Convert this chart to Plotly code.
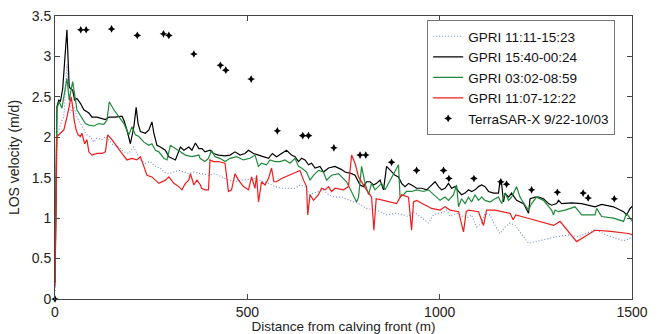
import plotly.graph_objects as go

# ---- data (distance from calving front in m, LOS velocity in m/d) ----
blue_x = [0, 3, 5, 10, 18, 23, 31, 40, 49, 57, 66, 75, 83, 92, 101, 109, 122, 131, 153, 166, 179, 192, 205, 213,
          222, 235, 248, 261, 274, 283, 296, 309, 322, 335, 348, 361, 381, 399, 416, 433, 451, 468, 485, 520, 555,
          572, 589, 624, 637, 650, 663, 672, 685, 698, 711, 728, 745, 767, 789, 810, 836, 862, 884, 906, 919, 932,
          971, 984, 1001, 1018, 1027, 1044, 1070, 1083, 1096, 1109, 1118, 1131, 1144, 1157, 1170, 1183, 1196, 1231,
          1270, 1304, 1334, 1360, 1404, 1434, 1478, 1495, 1504]
blue_y = [0.1, 1.0, 2.05, 2.09, 2.21, 2.25, 2.9, 2.30, 2.38, 2.25, 2.17, 2.09, 2.03, 2.01, 1.94, 1.99, 1.97, 2.01,
          1.90, 1.88, 1.82, 1.80, 1.88, 1.80, 1.72, 1.68, 1.70, 1.64, 1.62, 1.57, 1.55, 1.57, 1.59, 1.57, 1.55, 1.57,
          1.55, 1.53, 1.55, 1.51, 1.47, 1.45, 1.47, 1.49, 1.43, 1.39, 1.37, 1.37, 1.41, 1.39, 1.29, 1.31, 1.33, 1.35,
          1.29, 1.26, 1.26, 1.22, 1.18, 1.12, 1.10, 1.04, 1.06, 1.04, 1.02, 1.08, 0.94, 1.04, 1.06, 1.10, 1.02, 1.06,
          1.00, 1.04, 0.89, 0.94, 1.06, 1.04, 0.91, 0.81, 0.89, 0.94, 0.91, 0.69, 0.73, 0.77, 0.79, 0.77, 0.86, 0.79,
          0.72, 0.75, 0.79]

black_x = [0, 3, 5, 10, 14, 20, 31, 37, 46, 51, 57, 66, 75, 88, 96, 109, 122, 131, 140, 157, 174, 179, 187, 196,
           205, 211, 216, 222, 235, 244, 252, 257, 265, 274, 287, 296, 304, 313, 326, 335, 348, 356, 365, 374, 382,
           390, 403, 412, 425, 442, 455, 468, 481, 494, 503, 516, 529, 542, 555, 565, 576, 589, 602, 615, 624, 633,
           641, 650, 659, 667, 676, 689, 698, 711, 728, 745, 754, 771, 780, 793, 802, 810, 819, 828, 836, 845, 854,
           862, 875, 884, 893, 901, 910, 919, 927, 940, 953, 966, 975, 988, 997, 1005, 1014, 1023, 1031, 1040, 1049,
           1057, 1066, 1075, 1083, 1092, 1101, 1109, 1118, 1127, 1140, 1153, 1157, 1161, 1166, 1170, 1179, 1187,
           1200, 1218, 1231, 1235, 1248, 1257, 1270, 1283, 1291, 1304, 1309, 1317, 1343, 1369, 1404, 1421, 1452,
           1478, 1486, 1495, 1504]
black_y = [0.2, 1.2, 2.38, 2.46, 2.44, 2.6, 3.33, 2.62, 2.58, 2.46, 2.48, 2.42, 2.34, 2.30, 2.25, 2.25, 2.23, 2.22,
           2.25, 2.25, 2.26, 2.21, 2.09, 1.92, 2.13, 2.37, 2.17, 2.07, 2.05, 2.09, 2.19, 2.05, 1.90, 1.88, 1.84, 1.76,
           1.74, 1.72, 1.88, 1.84, 1.88, 1.84, 1.93, 1.86, 1.86, 1.82, 1.84, 1.80, 1.78, 1.77, 1.78, 1.82, 1.78, 1.80,
           1.84, 1.80, 1.78, 1.76, 1.74, 1.80, 1.76, 1.80, 1.84, 1.78, 1.76, 1.70, 1.74, 1.72, 1.66, 1.68, 1.62, 1.64,
           1.57, 1.62, 1.64, 1.60, 1.57, 1.55, 1.53, 1.41, 1.39, 1.45, 1.45, 1.41, 1.43, 1.47, 1.35, 1.64, 1.57, 1.53,
           1.51, 1.43, 1.39, 1.43, 1.41, 1.37, 1.37, 1.35, 1.39, 1.45, 1.39, 1.35, 1.37, 1.43, 1.37, 1.39, 1.33, 1.29,
           1.31, 1.35, 1.33, 1.35, 1.39, 1.41, 1.39, 1.33, 1.31, 1.31, 1.47, 1.43, 1.20, 1.31, 1.26, 1.31, 1.22, 1.18,
           1.06, 1.24, 1.26, 1.26, 1.24, 1.18, 1.16, 1.18, 1.22, 1.18, 1.19, 1.18, 1.14, 1.17, 1.14, 1.08, 1.04, 1.12,
           1.16]

green_x = [0, 3, 5, 11, 18, 31, 37, 46, 51, 57, 66, 79, 88, 101, 114, 127, 135, 141, 153, 166, 179, 192, 200, 209,
           218, 231, 244, 252, 261, 270, 283, 291, 300, 313, 326, 339, 356, 374, 377, 390, 399, 407, 416, 429, 442,
           455, 472, 490, 507, 520, 529, 537, 550, 559, 572, 585, 598, 611, 624, 633, 641, 654, 663, 672, 685, 698,
           706, 719, 737, 741, 758, 784, 789, 797, 806, 815, 823, 832, 841, 849, 858, 893, 897, 906, 914, 927, 940,
           958, 971, 1001, 1014, 1023, 1036, 1044, 1049, 1057, 1066, 1075, 1083, 1092, 1101, 1109, 1118, 1131, 1144,
           1153, 1161, 1170, 1179, 1187, 1200, 1209, 1222, 1231, 1239, 1252, 1270, 1283, 1291, 1296, 1300, 1309,
           1326, 1352, 1369, 1404, 1408, 1421, 1452, 1478, 1486, 1495, 1504]
green_y = [0.2, 1.2, 2.36, 2.44, 2.36, 2.73, 2.46, 2.69, 2.50, 2.34, 2.27, 2.17, 2.15, 2.14, 2.17, 2.16, 2.21, 2.44,
           2.34, 2.25, 2.17, 2.03, 2.13, 2.03, 2.01, 1.94, 1.90, 1.92, 1.84, 1.82, 1.74, 1.72, 1.90, 1.86, 1.82, 1.78,
           1.76, 1.78, 1.74, 1.70, 1.74, 1.84, 1.76, 1.74, 1.70, 1.74, 1.76, 1.72, 1.74, 1.78, 1.64, 1.68, 1.66, 1.72,
           1.70, 1.70, 1.72, 1.68, 1.74, 1.64, 1.62, 1.57, 1.47, 1.53, 1.59, 1.57, 1.47, 1.53, 1.55, 1.53, 1.45, 1.20,
           1.26, 1.64, 1.43, 1.29, 1.43, 1.35, 1.39, 1.43, 1.35, 1.66, 1.26, 1.29, 1.33, 1.33, 1.35, 1.33, 1.35, 1.22,
           1.26, 1.22, 1.29, 1.41, 1.14, 1.24, 1.18, 1.26, 1.20, 1.29, 1.22, 1.26, 1.22, 1.20, 1.24, 1.26, 1.18, 1.31,
           1.22, 1.26, 1.39, 1.26, 1.16, 1.10, 1.18, 1.26, 1.22, 1.14, 1.10, 1.04, 1.10, 1.08, 1.10, 1.14, 1.04, 1.04,
           1.12, 1.02, 1.00, 0.96, 1.06, 1.00, 0.94]

red_x = [0, 3, 5, 14, 23, 31, 42, 46, 50, 55, 60, 66, 70, 77, 83, 88, 96, 109, 122, 131, 137, 148, 161, 174, 187,
         200, 213, 222, 231, 239, 252, 270, 287, 296, 309, 322, 330, 339, 348, 352, 361, 369, 378, 381, 390, 399,
         403, 412, 425, 442, 451, 459, 468, 477, 490, 503, 511, 520, 524, 529, 537, 546, 555, 563, 569, 576, 589,
         607, 624, 637, 646, 654, 657, 663, 672, 685, 693, 702, 711, 719, 728, 750, 763, 771, 780, 789, 810, 823,
         829, 835, 854, 871, 888, 901, 919, 927, 932, 940, 962, 979, 1001, 1014, 1027, 1049, 1062, 1069, 1075, 1101,
         1114, 1122, 1144, 1161, 1183, 1191, 1198, 1213, 1296, 1313, 1356, 1404, 1439, 1491, 1504]
red_y = [0.15, 1.15, 2.01, 2.05, 2.09, 2.25, 2.50, 2.38, 2.21, 2.09, 2.03, 2.01, 2.05, 1.92, 1.97, 1.82, 1.78, 1.80,
         1.80, 1.82, 2.03, 1.97, 1.88, 1.80, 1.72, 1.74, 1.72, 1.76, 1.64, 1.53, 1.51, 1.43, 1.47, 1.51, 1.43, 1.39,
         1.35, 1.43, 1.47, 1.55, 1.41, 1.47, 1.41, 1.37, 1.35, 1.35, 1.72, 1.70, 1.70, 1.68, 1.33, 1.35, 1.55, 1.47,
         1.39, 1.35, 1.51, 1.37, 1.53, 1.20, 1.45, 1.41, 1.49, 1.62, 1.45, 1.45, 1.49, 1.53, 1.57, 1.59, 1.47, 1.39,
         1.04, 1.29, 1.22, 1.29, 1.37, 1.35, 1.39, 1.33, 1.37, 1.35, 1.39, 1.78, 1.68, 1.51, 1.35, 1.26, 0.85, 1.24,
         1.22, 1.20, 1.18, 1.29, 1.26, 0.85, 1.20, 1.22, 1.16, 1.12, 1.10, 1.14, 1.10, 1.08, 0.83, 1.08, 1.10, 1.08,
         0.91, 1.10, 1.10, 1.08, 1.06, 0.98, 1.04, 1.02, 0.91, 0.96, 0.71, 0.85, 0.84, 0.81, 0.79]

tsx_x = [0, 67, 81, 147, 214, 282, 296, 361, 430, 444, 510, 578, 644, 659, 725, 793, 808, 875, 940, 1010, 1024,
         1089, 1159, 1174, 1239, 1306, 1373, 1386, 1454]
tsx_y = [0.0, 3.33, 3.33, 3.34, 3.26, 3.28, 3.26, 3.03, 2.89, 2.83, 2.72, 2.08, 2.02, 2.02, 1.87, 1.78, 1.78, 1.69,
         1.59, 1.59, 1.49, 1.49, 1.45, 1.42, 1.35, 1.32, 1.31, 1.25, 1.24]

names = ["GPRI 11:11-15:23", "GPRI 15:40-00:24", "GPRI 03:02-08:59", "GPRI 11:07-12:22", "TerraSAR-X 9/22-10/03"]
x_ticks = [0, 500, 1000, 1500]
y_ticks = [0, 0.5, 1, 1.5, 2, 2.5, 3, 3.5]

FONT = "Liberation Sans, Arial, sans-serif"

fig = go.Figure()
fig.add_trace(go.Scatter(x=blue_x, y=blue_y, mode="lines", name=names[0],
                         line=dict(color="#7286d8", width=1.1, dash="1px,2px")))
fig.add_trace(go.Scatter(x=black_x, y=black_y, mode="lines", name=names[1],
                         line=dict(color="#000000", width=1.2)))
fig.add_trace(go.Scatter(x=green_x, y=green_y, mode="lines", name=names[2],
                         line=dict(color="#1f8a3c", width=1.2)))
fig.add_trace(go.Scatter(x=red_x, y=red_y, mode="lines", name=names[3],
                         line=dict(color="#ee1c1c", width=1.2)))
fig.add_trace(go.Scatter(x=tsx_x, y=tsx_y, mode="markers", name=names[4], cliponaxis=False,
                         marker=dict(symbol="star-diamond", size=5.5, color="#000000")))

axis_common = dict(showgrid=False, zeroline=False, showline=True, linecolor="#444444", linewidth=1,
                   mirror="ticks", ticks="inside", ticklen=5, tickcolor="#444444", automargin=False,
                   tickfont=dict(family=FONT, size=14, color="#222222"))

fig.update_xaxes(range=[0, 1500], tickvals=x_ticks, **axis_common,
                 title=dict(text="Distance from calving front (m)", standoff=0,
                            font=dict(family=FONT, size=13.5, color="#222222")))
fig.update_yaxes(range=[0, 3.5], tickvals=y_ticks, **axis_common,
                 title=dict(text="LOS velocity (m/d)", standoff=8,
                            font=dict(family=FONT, size=14, color="#222222")))

fig.update_layout(
    width=658, height=334,
    margin=dict(l=55, r=26, t=16, b=35),
    paper_bgcolor="white", plot_bgcolor="white",
    legend=dict(x=0.645, y=0.986, xanchor="left", yanchor="top",
                bgcolor="white", bordercolor="#777777", borderwidth=1,
                font=dict(family=FONT, size=13.5, color="#111111"),
                tracegroupgap=0, itemwidth=30),
)

fig.write_html("out.html", config={"displayModeBar": False},
               post_script="document.body.style.margin='0';")
